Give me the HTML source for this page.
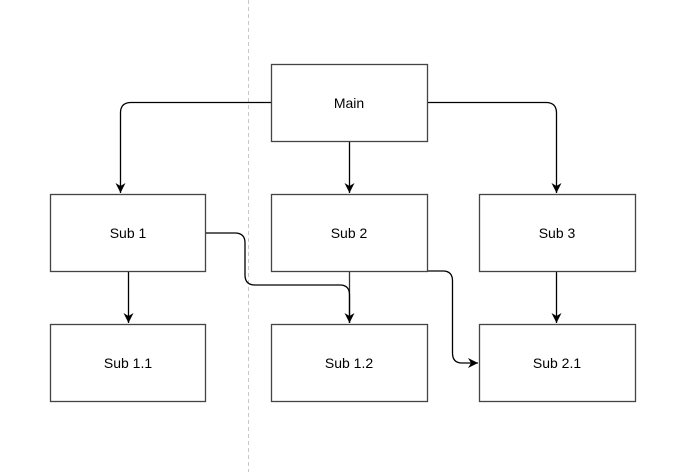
<!DOCTYPE html>
<html><head><style>body{margin:0;background:#fff}svg{display:block}</style></head><body>
<svg width="697" height="472" viewBox="0 0 697 472" xmlns="http://www.w3.org/2000/svg">
<defs><marker id="a" markerWidth="12" markerHeight="12" refX="10" refY="5" orient="auto" markerUnits="userSpaceOnUse"><path d="M0,0 L10,5 L0,10 L3,5 Z" fill="#000"/></marker></defs>
<line x1="248.5" y1="0" x2="248.5" y2="472" stroke="#c8c8c8" stroke-dasharray="4,3"/>
<g fill="none" stroke="#000" stroke-width="1.3">
<path d="M271,102.5 H131 Q120.5,102.5 120.5,113 V193" marker-end="url(#a)"/>
<path d="M349.5,141 V193" marker-end="url(#a)"/>
<path d="M427,102.5 H546 Q556.5,102.5 556.5,113 V193" marker-end="url(#a)"/>
<path d="M128.5,271 V323" marker-end="url(#a)"/>
<path d="M349.5,271 V323" stroke="#333"/>
<path d="M206,233 H235 Q245,233 245,243 V275 Q245,285 255,285 H340 Q349.5,285 349.5,295 V323" marker-end="url(#a)"/>
<path d="M427,271 H443 Q452.5,271 452.5,281 V353 Q452.5,363 462,363 H478" marker-end="url(#a)"/>
<path d="M556.5,271 V323" marker-end="url(#a)"/>
</g>
<g fill="#fff" stroke="#444" stroke-width="1.3">
<rect x="271.5" y="64.5" width="156" height="77"/>
<rect x="50.5" y="194.5" width="155" height="77"/>
<rect x="271.5" y="194.5" width="156" height="77"/>
<rect x="479.5" y="194.5" width="156" height="77"/>
<rect x="50.5" y="324.5" width="155" height="77"/>
<rect x="271.5" y="324.5" width="156" height="77"/>
<rect x="479.5" y="324.5" width="156" height="77"/>
</g>
<g font-family="Liberation Sans, sans-serif" font-size="14" text-anchor="middle" fill="#000">
<text x="349" y="108">Main</text>
<text x="128" y="238">Sub 1</text>
<text x="349" y="238">Sub 2</text>
<text x="557" y="238">Sub 3</text>
<text x="128" y="368">Sub 1.1</text>
<text x="349" y="368">Sub 1.2</text>
<text x="557" y="368">Sub 2.1</text>
</g>
</svg>
</body></html>
